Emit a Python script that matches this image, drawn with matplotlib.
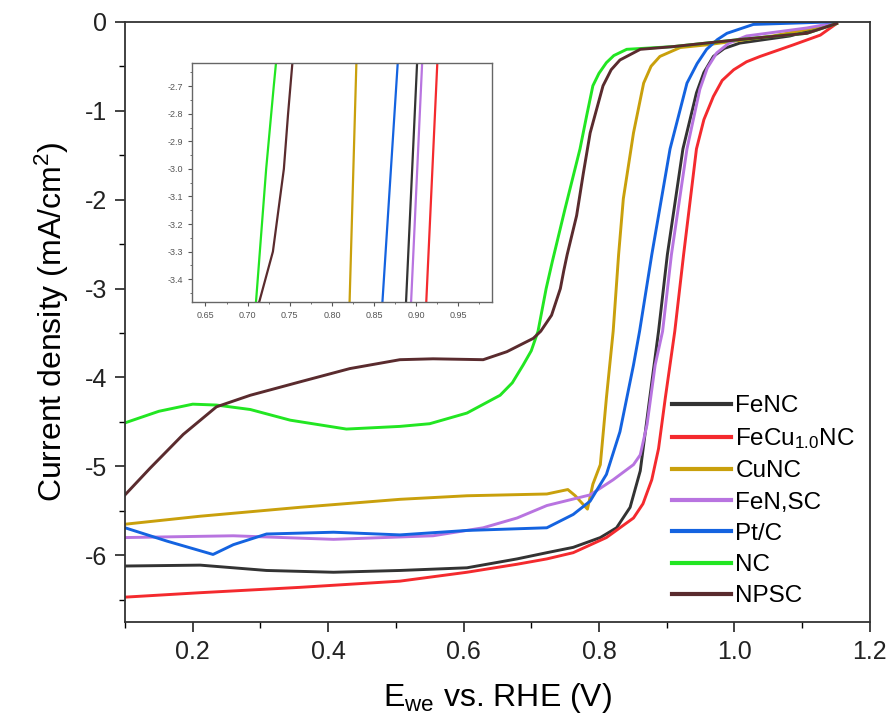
"""LSV curves (ORR polarisation) with zoomed inset."""
import matplotlib
matplotlib.use("Agg")
import matplotlib.pyplot as plt
from matplotlib.ticker import MultipleLocator

plt.rcParams["font.family"] = ["Liberation Sans", "DejaVu Sans"]
plt.rcParams["mathtext.fontset"] = "custom"
plt.rcParams["mathtext.rm"] = "Liberation Sans"
plt.rcParams["mathtext.it"] = "Liberation Sans"

# ---- data (E in V vs RHE, j in mA/cm2) ----
fenc_e = [0.100, 0.211, 0.309, 0.408, 0.506, 0.605, 0.679, 0.723, 0.762, 0.802,
          0.826, 0.846, 0.861, 0.875, 0.888, 0.901, 0.924, 0.944, 0.955, 0.969,
          0.985, 1.008, 1.082, 1.146]
fenc_j = [-6.12, -6.11, -6.17, -6.19, -6.17, -6.14, -6.04, -5.97, -5.91, -5.80,
          -5.69, -5.46, -5.05, -4.23, -3.48, -2.62, -1.43, -0.80, -0.57, -0.39,
          -0.30, -0.24, -0.16, -0.03]

fecu_e = [0.100, 0.211, 0.358, 0.506, 0.605, 0.679, 0.723, 0.762, 0.811, 0.851,
          0.865, 0.878, 0.888, 0.898, 0.912, 0.925, 0.944, 0.955, 0.969, 0.982,
          0.999, 1.018, 1.038, 1.087, 1.127, 1.151]
fecu_j = [-6.47, -6.42, -6.36, -6.29, -6.19, -6.10, -6.04, -5.97, -5.80, -5.58,
          -5.42, -5.15, -4.80, -4.23, -3.48, -2.62, -1.43, -1.10, -0.84, -0.66,
          -0.54, -0.45, -0.39, -0.26, -0.15, -0.02]

cunc_e = [0.100, 0.211, 0.358, 0.506, 0.605, 0.723, 0.754, 0.765, 0.783, 0.791,
          0.802, 0.811, 0.821, 0.829, 0.836, 0.851, 0.866, 0.877, 0.890, 0.920,
          0.959, 1.057, 1.151]
cunc_j = [-5.65, -5.56, -5.46, -5.37, -5.33, -5.31, -5.26, -5.33, -5.48, -5.20,
          -4.98, -4.23, -3.48, -2.62, -1.99, -1.25, -0.69, -0.50, -0.39, -0.29,
          -0.26, -0.16, -0.02]

fensc_e = [0.100, 0.260, 0.408, 0.555, 0.629, 0.679, 0.723, 0.787, 0.821, 0.851,
           0.861, 0.871, 0.883, 0.894, 0.907, 0.930, 0.949, 0.960, 0.974, 0.992,
           1.018, 1.107, 1.151]
fensc_j = [-5.80, -5.78, -5.82, -5.78, -5.69, -5.58, -5.44, -5.32, -5.15, -4.98,
           -4.87, -4.53, -3.86, -3.48, -2.62, -1.43, -0.76, -0.52, -0.35, -0.24,
           -0.16, -0.07, -0.01]

ptc_e = [0.100, 0.162, 0.230, 0.260, 0.309, 0.408, 0.506, 0.605, 0.723, 0.762,
         0.787, 0.811, 0.831, 0.851, 0.860, 0.878, 0.905, 0.930, 0.945, 0.959,
         0.975, 0.989, 1.028, 1.151]
ptc_j = [-5.69, -5.84, -5.99, -5.88, -5.76, -5.74, -5.77, -5.72, -5.69, -5.54,
         -5.39, -5.09, -4.61, -3.86, -3.48, -2.62, -1.43, -0.69, -0.47, -0.31,
         -0.20, -0.13, -0.03, 0.00]

nc_e = [0.100, 0.150, 0.200, 0.235, 0.285, 0.344, 0.427, 0.506, 0.550, 0.605,
        0.654, 0.672, 0.688, 0.700, 0.710, 0.722, 0.731, 0.750, 0.772, 0.782,
        0.791, 0.800, 0.811, 0.822, 0.841, 0.909, 1.008, 1.107, 1.151]
nc_j = [-4.51, -4.38, -4.30, -4.31, -4.36, -4.48, -4.58, -4.55, -4.52, -4.40,
        -4.20, -4.06, -3.86, -3.70, -3.48, -3.00, -2.70, -2.10, -1.43, -1.05,
        -0.72, -0.58, -0.46, -0.38, -0.31, -0.28, -0.20, -0.13, -0.02]

npsc_e = [0.100, 0.137, 0.186, 0.235, 0.285, 0.358, 0.432, 0.506, 0.555, 0.629,
          0.664, 0.703, 0.714, 0.730, 0.743, 0.748, 0.753, 0.767, 0.777, 0.787,
          0.806, 0.818, 0.831, 0.861, 0.909, 1.008, 1.107, 1.151]
npsc_j = [-5.32, -5.02, -4.64, -4.33, -4.20, -4.05, -3.90, -3.80, -3.79, -3.80,
          -3.71, -3.56, -3.48, -3.30, -3.00, -2.80, -2.62, -2.18, -1.70, -1.25,
          -0.72, -0.54, -0.43, -0.31, -0.28, -0.20, -0.13, -0.02]

series = [
    ("FeNC", fenc_e, fenc_j, "#333333"),
    ("FeCu$_{1.0}$NC", fecu_e, fecu_j, "#f42a2e"),
    ("CuNC", cunc_e, cunc_j, "#c9a00c"),
    ("FeN,SC", fensc_e, fensc_j, "#b874e0"),
    ("Pt/C", ptc_e, ptc_j, "#1463e0"),
    ("NC", nc_e, nc_j, "#22e622"),
    ("NPSC", npsc_e, npsc_j, "#5a2b2e"),
]

x_ticks = [0.2, 0.4, 0.6, 0.8, 1.0, 1.2]
y_ticks = [0, -1, -2, -3, -4, -5, -6]
inset_x_ticks = [0.65, 0.70, 0.75, 0.80, 0.85, 0.90, 0.95]
inset_y_ticks = [-2.7, -2.8, -2.9, -3.0, -3.1, -3.2, -3.3, -3.4]

fig = plt.figure(figsize=(8.93, 7.25), dpi=100)
ax = fig.add_axes([0.140, 0.142, 0.834, 0.828])

for label, e, j, c in series:
    ax.plot(e, j, color=c, lw=2.1, label=label, solid_joinstyle="round")

ax.set_xlim(0.1, 1.2)
ax.set_ylim(-6.75, 0)
ax.set_xticks(x_ticks)
ax.set_xticklabels([f"{v:.1f}" for v in x_ticks])
ax.set_yticks(y_ticks)
ax.set_yticklabels([f"{v:d}" for v in y_ticks])
ax.xaxis.set_minor_locator(MultipleLocator(0.1))
ax.yaxis.set_minor_locator(MultipleLocator(0.5))
ax.tick_params(which="major", direction="out", length=7, width=1.2,
               labelsize=18, colors="#222222", top=False, right=False,
               pad=6)
ax.tick_params(which="minor", direction="out", length=4, width=1.0,
               top=False, right=False)
for sp in ax.spines.values():
    sp.set_linewidth(1.3)
    sp.set_color("#333333")
ax.set_xlabel("E$_{\\mathregular{we}}$ vs. RHE (V)", fontsize=23, labelpad=12)
ax.set_ylabel("Current density (mA/cm$^{\\mathregular{2}}$)", fontsize=23,
              labelpad=10)

leg = ax.legend(loc="lower right", frameon=False, fontsize=17.5,
                handlelength=2.4, handletextpad=0.2, labelspacing=0.38,
                borderaxespad=0.2, bbox_to_anchor=(1.0, 0.0))
for line in leg.get_lines():
    line.set_linewidth(3.0)

# inset zoom on the half-wave region
ins = fig.add_axes([0.215, 0.583, 0.336, 0.330])
for label, e, j, c in series:
    ins.plot(e, j, color=c, lw=1.6)
ins.set_xlim(0.634, 0.99)
ins.set_ylim(-3.484, -2.616)
ins.set_xticks(inset_x_ticks)
ins.set_xticklabels([f"{v:.2f}" for v in inset_x_ticks])
ins.set_yticks(inset_y_ticks)
ins.set_yticklabels([f"{v:.1f}" for v in inset_y_ticks])
ins.xaxis.set_minor_locator(MultipleLocator(0.025))
ins.yaxis.set_minor_locator(MultipleLocator(0.05))
ins.tick_params(which="major", direction="out", length=3, width=0.8,
                labelsize=6.5, colors="#555555")
ins.tick_params(which="minor", direction="out", length=1.5, width=0.6,
                colors="#555555")
for sp in ins.spines.values():
    sp.set_linewidth(1.0)
    sp.set_color("#666666")

fig.savefig("out.png", dpi=100)
plt.close(fig)
